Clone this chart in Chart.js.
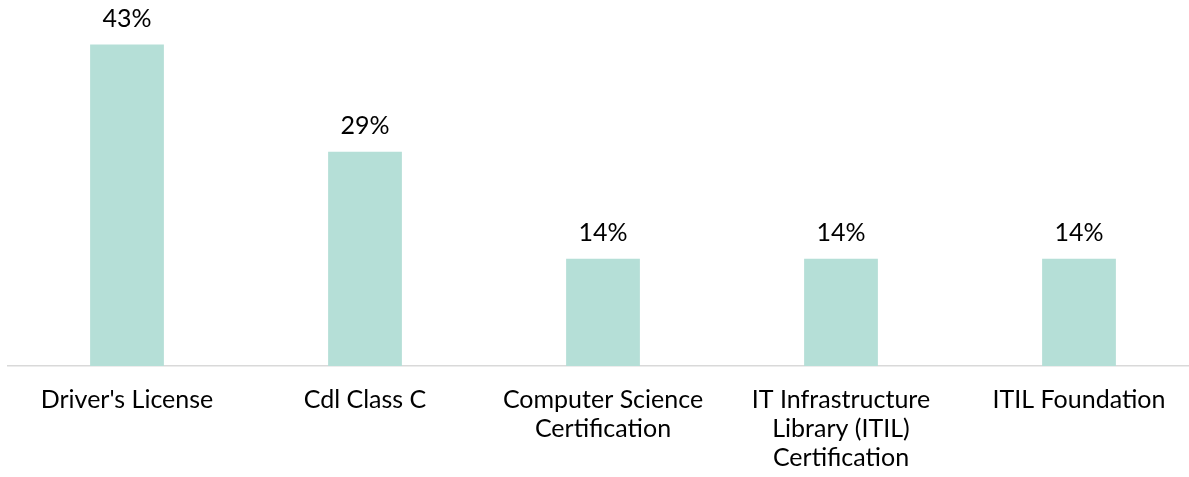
<!DOCTYPE html>
<html>
<head>
<meta charset="utf-8">
<script src="https://cdn.jsdelivr.net/npm/chart.js@4/dist/chart.umd.min.js"></script>
<style>
  html, body { margin: 0; padding: 0; background: #fff; overflow: hidden; }
  #wrap { position: relative; width: 1198px; height: 477px; }
</style>
</head>
<body>
<div id="wrap"><canvas id="myChart"></canvas></div>
<script>
'use strict';

let categories = [
  "Driver's License",
  'Cdl Class C',
  ['Computer Science', 'Certification'],
  ['IT Infrastructure', 'Library (ITIL)', 'Certification'],
  'ITIL Foundation'
];
let shares = [42.86, 28.57, 14.29, 14.29, 14.29];
let shareLabels = ['43%', '29%', '14%', '14%', '14%'];

let labelFont = '25px Lato, "Noto Sans", sans-serif';

// writes the percentage above each bar
let barLabels = {
  id: 'barLabels',
  afterDatasetsDraw(chart) {
    let ctx = chart.ctx;
    let meta = chart.getDatasetMeta(0);
    ctx.save();
    ctx.font = labelFont;
    ctx.fillStyle = '#000';
    ctx.textAlign = 'center';
    ctx.textBaseline = 'alphabetic';
    meta.data.forEach(function (bar, i) {
      ctx.fillText(shareLabels[i], bar.x, bar.y - 18);
    });
    ctx.restore();
  }
};

let ctx = document.getElementById('myChart').getContext('2d');

new Chart(ctx, {
  type: 'bar',
  data: {
    labels: categories,
    datasets: [{
      data: shares,
      backgroundColor: '#b5dfd7',
      categoryPercentage: 1,
      barPercentage: 0.31
    }]
  },
  options: {
    responsive: true,
    maintainAspectRatio: false,
    animation: false,
    layout: { padding: { left: 8, right: 0, top: 0, bottom: 0 } },
    plugins: {
      legend: { display: false },
      tooltip: { enabled: false }
    },
    scales: {
      x: {
        grid: { display: false },
        border: { display: true, color: '#d9d9d9', width: 1.5 },
        ticks: {
          color: '#000',
          font: { family: 'Lato, "Noto Sans", sans-serif', size: 25, lineHeight: 1.16 },
          padding: 11,
          maxRotation: 0,
          autoSkip: false
        },
        afterFit(scale) {
          scale.height = 111;
        }
      },
      y: {
        display: false,
        min: 0,
        max: 48.8
      }
    }
  },
  plugins: [barLabels]
});
</script>
</body>
</html>
